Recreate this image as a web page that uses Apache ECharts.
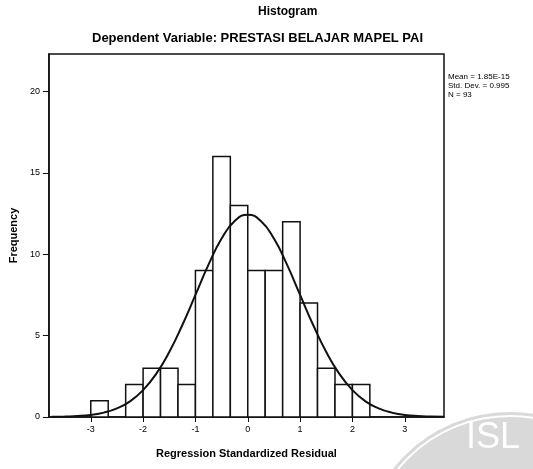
<!DOCTYPE html>
<html>
<head>
<meta charset="utf-8">
<script src="https://cdn.jsdelivr.net/npm/echarts@6/dist/echarts.min.js"></script>
<style>
  html, body { margin: 0; padding: 0; background: #fff; }
  #main { width: 533px; height: 469px; }
</style>
</head>
<body>
<div id="main"></div>
<script>
// bin edges (width 1/3) and counts
var binEdges = [-3, -2.667, -2.333, -2, -1.667, -1.333, -1, -0.667, -0.333, 0, 0.333, 0.667, 1, 1.333, 1.667, 2, 2.333];
var counts = [1, 0, 2, 3, 3, 2, 9, 16, 13, 9, 9, 12, 7, 3, 2, 2];
// normal curve
var curveX = [-3.75, -3.5, -3.25, -3, -2.75, -2.5, -2.25, -2, -1.75, -1.5, -1.25, -1, -0.75, -0.5, -0.25, 0,
  0.25, 0.5, 0.75, 1, 1.25, 1.5, 1.75, 2, 2.25, 2.5, 2.75, 3, 3.25, 3.5, 3.75];
var curveY = [0.01, 0.03, 0.06, 0.13, 0.27, 0.53, 0.96, 1.65, 2.65, 3.99, 5.65, 7.5, 9.36, 10.96, 12.04, 12.43,
  12.04, 10.96, 9.36, 7.5, 5.65, 3.99, 2.65, 1.65, 0.96, 0.53, 0.27, 0.13, 0.06, 0.03, 0.01];
var xTicks = [-3, -2, -1, 0, 1, 2, 3];
var yTicks = [0, 5, 10, 15, 20];
var statLines = ['Mean = 1.85E-15', 'Std. Dev. = 0.995', 'N = 93'];

var bars = [];
for (var i = 0; i < counts.length; i++) {
  bars.push([binEdges[i], binEdges[i + 1], counts[i]]);
}
var curve = curveX.map(function (x, i) { return [x, curveY[i]]; });

var myChart = echarts.init(document.getElementById('main'));
myChart.setOption({
  animation: false,
  textStyle: { fontFamily: 'Liberation Sans, Arial, sans-serif', color: '#000' },
  grid: {
    left: 48, right: 89, top: 54, bottom: 52,
    show: true, borderColor: '#111', borderWidth: 1.5
  },
  graphic: [
    { type: 'text', left: 258, top: 6, style: { text: 'Histogram', font: 'bold 12px Liberation Sans', fill: '#000' } },
    { type: 'text', left: 92, top: 32, style: { text: 'Dependent Variable: PRESTASI BELAJAR MAPEL PAI', font: 'bold 13px Liberation Sans', fill: '#000' } },
    { type: 'text', left: 448, top: 72, style: { text: statLines.join('\n'), font: '8px Liberation Sans', lineHeight: 9, fill: '#000' } },
    // scan watermark
    { type: 'circle', shape: { cx: 510, cy: 561, r: 149 }, style: { fill: '#d9d9d9' }, z: -10 },
    { type: 'circle', shape: { cx: 510, cy: 561, r: 145 }, style: { fill: 'none', stroke: '#fff', lineWidth: 2 }, z: -9 },
    { type: 'text', left: 466, top: 420, style: { text: 'ISL', font: '36px Liberation Sans', fill: '#fff' }, z: -8 }
  ],
  xAxis: {
    type: 'value', min: -3.8, max: 3.75,
    name: 'Regression Standardized Residual',
    nameLocation: 'middle', nameGap: 31,
    nameTextStyle: { fontWeight: 'bold', fontSize: 11, color: '#000' },
    axisLine: { show: true, onZero: false, lineStyle: { color: '#111', width: 1.5 } },
    axisTick: { show: true, length: 5, customValues: xTicks, lineStyle: { color: '#111' } },
    axisLabel: { customValues: xTicks, fontSize: 9, color: '#000', margin: 8 },
    splitLine: { show: false }
  },
  yAxis: {
    type: 'value', min: 0, max: 22.3,
    name: 'Frequency',
    nameLocation: 'middle', nameGap: 27,
    nameTextStyle: { fontWeight: 'bold', fontSize: 11, color: '#000' },
    axisLine: { show: true, onZero: false, lineStyle: { color: '#111', width: 1.5 } },
    axisTick: { show: true, length: 6, customValues: yTicks, lineStyle: { color: '#111' } },
    axisLabel: { customValues: yTicks, fontSize: 9, color: '#000', margin: 9 },
    splitLine: { show: false }
  },
  series: [
    {
      type: 'custom',
      data: bars,
      renderItem: function (params, api) {
        var h = api.value(2);
        if (!h) return null;
        var p0 = api.coord([api.value(0), h]);
        var p1 = api.coord([api.value(1), 0]);
        return {
          type: 'rect',
          shape: { x: p0[0], y: p0[1], width: p1[0] - p0[0], height: p1[1] - p0[1] },
          style: { fill: '#fff', stroke: '#111', lineWidth: 1.5 }
        };
      },
      z: 2
    },
    {
      type: 'line',
      data: curve,
      smooth: true,
      showSymbol: false,
      lineStyle: { color: '#111', width: 2 },
      z: 3
    }
  ]
});
</script>
</body>
</html>
